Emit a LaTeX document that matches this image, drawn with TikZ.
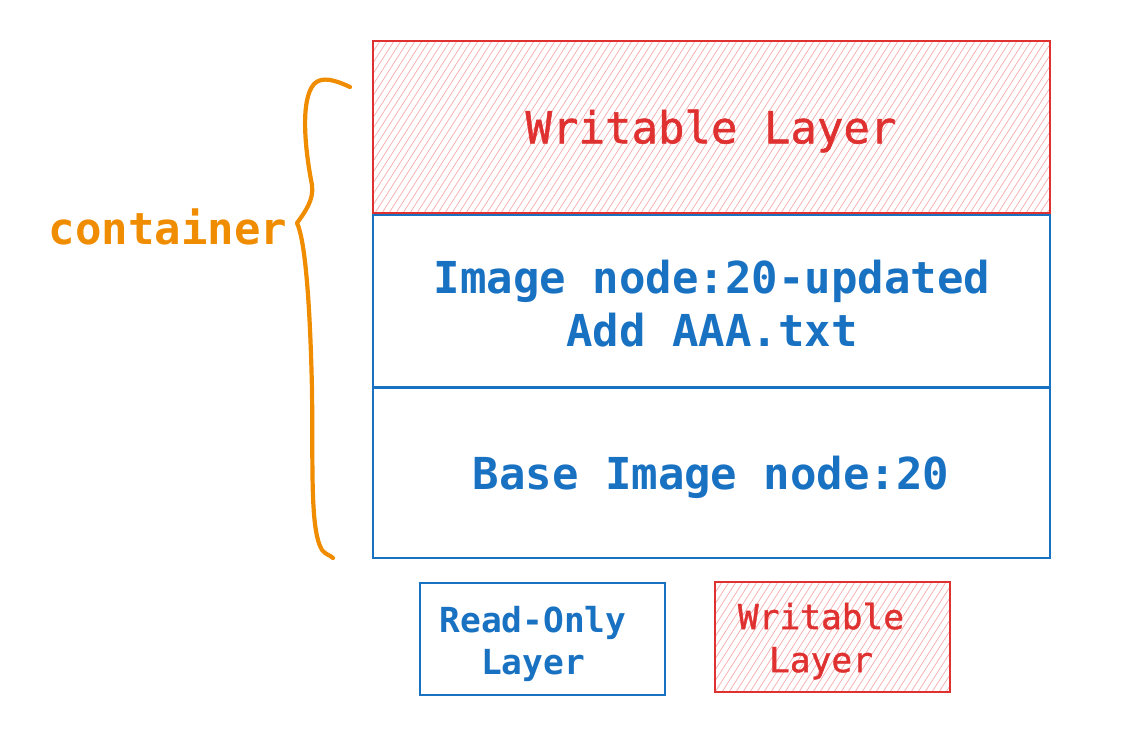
\documentclass[tikz,border=0pt]{standalone}
\usepackage{fontspec}
\setmonofont{DejaVu Sans Mono}
\newfontfamily\monob{DejaVu Sans Mono Bold}
\newfontfamily\monomed[FakeBold=1.2]{DejaVu Sans Mono}
\definecolor{exred}{HTML}{E03131}
\definecolor{exblue}{HTML}{1971C2}
\definecolor{exorange}{HTML}{F08C00}
\definecolor{hatch}{HTML}{F5ABAB}
\tikzset{
  redbox/.style={draw=exred, line width=1.4pt},
  bluebox/.style={draw=exblue, line width=1.4pt},
  bigred/.style={text=exred, font=\monomed\fontsize{44}{53}\selectfont, align=center},
  bigblue/.style={text=exblue, font=\monob\fontsize{44}{53}\selectfont, align=center},
  smallred/.style={text=exred, font=\monomed\fontsize{34.5}{43}\selectfont, align=center},
  smallblue/.style={text=exblue, font=\monob\fontsize{34.5}{41.5}\selectfont, align=center},
  orangetext/.style={text=exorange, font=\monob\fontsize{44}{53}\selectfont},
  bracestyle/.style={draw=exorange, line width=4.2pt, line cap=round, line join=round},
  hatchline/.style={draw=hatch, line width=0.7pt}
}
\begin{document}
\begin{tikzpicture}[x=1pt,y=-1pt]
\useasboundingbox (0,0) rectangle (1139,733);
% hatch fills
\begin{scope}
  \clip (373,41) rectangle (1050,213);
  \foreach \i in {0,7,...,800} { \draw[hatchline] (373+\i-110,213) -- (373+\i,41); }
\end{scope}
\begin{scope}
  \clip (715,582) rectangle (950,692);
  \foreach \i in {0,7,...,320} { \draw[hatchline] (715+\i-70,692) -- (715+\i,582); }
\end{scope}
% layer boxes
\draw[redbox] (373,41) rectangle (1050,213);
\node[bigred] (wl) at (711,131) {Writable Layer};
\draw[bluebox] (373,215) rectangle (1050,387);
\node[bigblue] (img) at (712,304) {Image node:20-updated\\Add AAA.txt};
\draw[bluebox] (373,388) rectangle (1050,558);
\node[bigblue] (base) at (711,477) {Base Image node:20};
% legend
\draw[bluebox] (420,583) rectangle (665,695);
\node[smallblue] (ro) at (533,644) {Read-Only\\Layer};
\draw[redbox] (715,582) rectangle (950,692);
\node[smallred] (wr) at (821,641) {Writable\\Layer};
% container brace
\node[orangetext] (cont) at (168,227) {container};
\coordinate (btop) at (350,87);
\coordinate (bpt) at (297,223);
\coordinate (bbot) at (333,558);
\draw[bracestyle] (btop) .. controls (335,80) and (322,76) .. (314,84)
  .. controls (300,100) and (305,150) .. (312,185)
  .. controls (314,200) and (305,212) .. (bpt)
  .. controls (305,240) and (310,300) .. (312,390)
  .. controls (313,470) and (310,530) .. (322,550)
  .. controls (326,555) and (330,555) .. (bbot);
\end{tikzpicture}
\end{document}
